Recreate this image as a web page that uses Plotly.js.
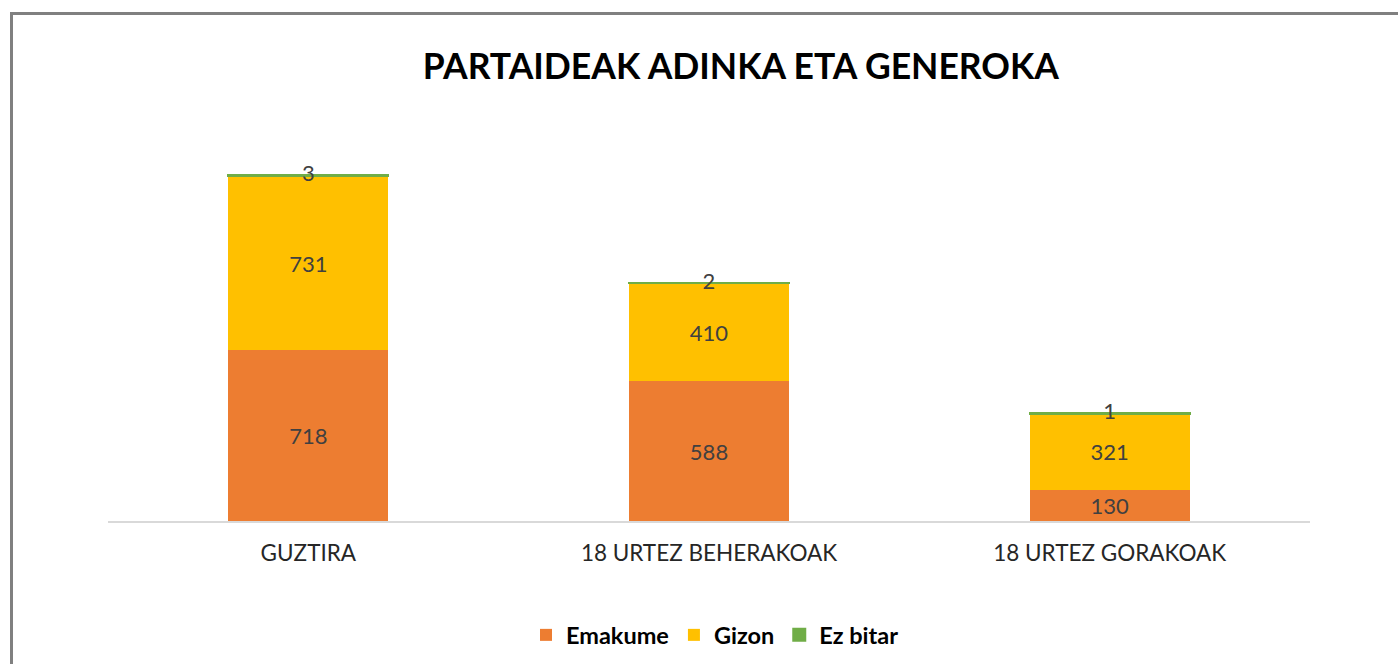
<!DOCTYPE html>
<html>
<head>
<meta charset="utf-8">
<script src="https://cdn.plot.ly/plotly-3.0.1.min.js"></script>
<style>
html,body{margin:0;padding:0;background:#fff;}
#wrap{position:relative;width:1398px;height:664px;}
#chart{width:1398px;height:664px;}
#frame{position:absolute;left:10px;top:12px;right:0;bottom:0;border-left:3px solid #808080;border-top:3px solid #808080;pointer-events:none;}
</style>
</head>
<body>
<div id="wrap"><div id="chart"></div><div id="frame"></div></div>
<script>
const categories = ['GUZTIRA', '18 URTEZ BEHERAKOAK', '18 URTEZ GORAKOAK'];
const emakume = [718, 588, 130];
const gizon = [731, 410, 321];
const ezBitar = [3, 2, 1];
const seriesNames = ['Emakume', 'Gizon', 'Ez bitar'];
const colors = ['#ED7D31', '#FFC000', '#70AD47'];

const FONT = 'Lato, "Liberation Sans", sans-serif';
const labelFont = {family: FONT, size: 22, color: '#404040'};

const totals = categories.map((c, i) => emakume[i] + gizon[i] + ezBitar[i]);

const traces = [
  {type: 'bar', name: seriesNames[0], x: categories, y: emakume, marker: {color: colors[0]},
   text: emakume.map(String), textposition: 'inside', insidetextanchor: 'middle',
   textfont: labelFont, constraintext: 'none', hoverinfo: 'skip'},
  {type: 'bar', name: seriesNames[1], x: categories, y: gizon, marker: {color: colors[1]},
   text: gizon.map(String), textposition: 'inside', insidetextanchor: 'middle',
   textfont: labelFont, constraintext: 'none', hoverinfo: 'skip'},
  {type: 'bar', name: seriesNames[2], x: categories, y: ezBitar, marker: {color: colors[2], line: {color: colors[2], width: 2}},
   textposition: 'none', hoverinfo: 'skip'},
  {type: 'scatter', mode: 'text', x: categories, y: totals, text: ezBitar.map(String),
   textposition: 'middle center', textfont: labelFont, showlegend: false, hoverinfo: 'skip'}
];

const layout = {
  width: 1398, height: 664,
  margin: {l: 108, r: 88, t: 100, b: 143, autoexpand: false},
  paper_bgcolor: '#ffffff', plot_bgcolor: '#ffffff',
  barmode: 'stack', bargap: 0.6,
  title: {text: '<b>PARTAIDEAK ADINKA ETA GENEROKA</b>', x: 0.530, xanchor: 'center', y: 0.900, yanchor: 'middle',
          font: {family: FONT, size: 35.5, color: '#000000'}},
  xaxis: {showline: true, linecolor: '#d9d9d9', linewidth: 2, ticks: '', showgrid: false,
          tickfont: {family: FONT, size: 22.5, color: '#262626'}, ticklabelstandoff: 11, fixedrange: true},
  yaxis: {range: [0, 1769], visible: false, showgrid: false, zeroline: false, fixedrange: true},
  showlegend: true,
  legend: {orientation: 'h', x: 0.505, xanchor: 'center', y: -0.271, yanchor: 'middle',
           font: {family: FONT, size: 23.5, color: '#000000', weight: 'bold'}, traceorder: 'normal'},
  font: {family: FONT}
};

Plotly.newPlot('chart', traces, layout, {displayModeBar: false, staticPlot: true});
</script>
</body>
</html>
